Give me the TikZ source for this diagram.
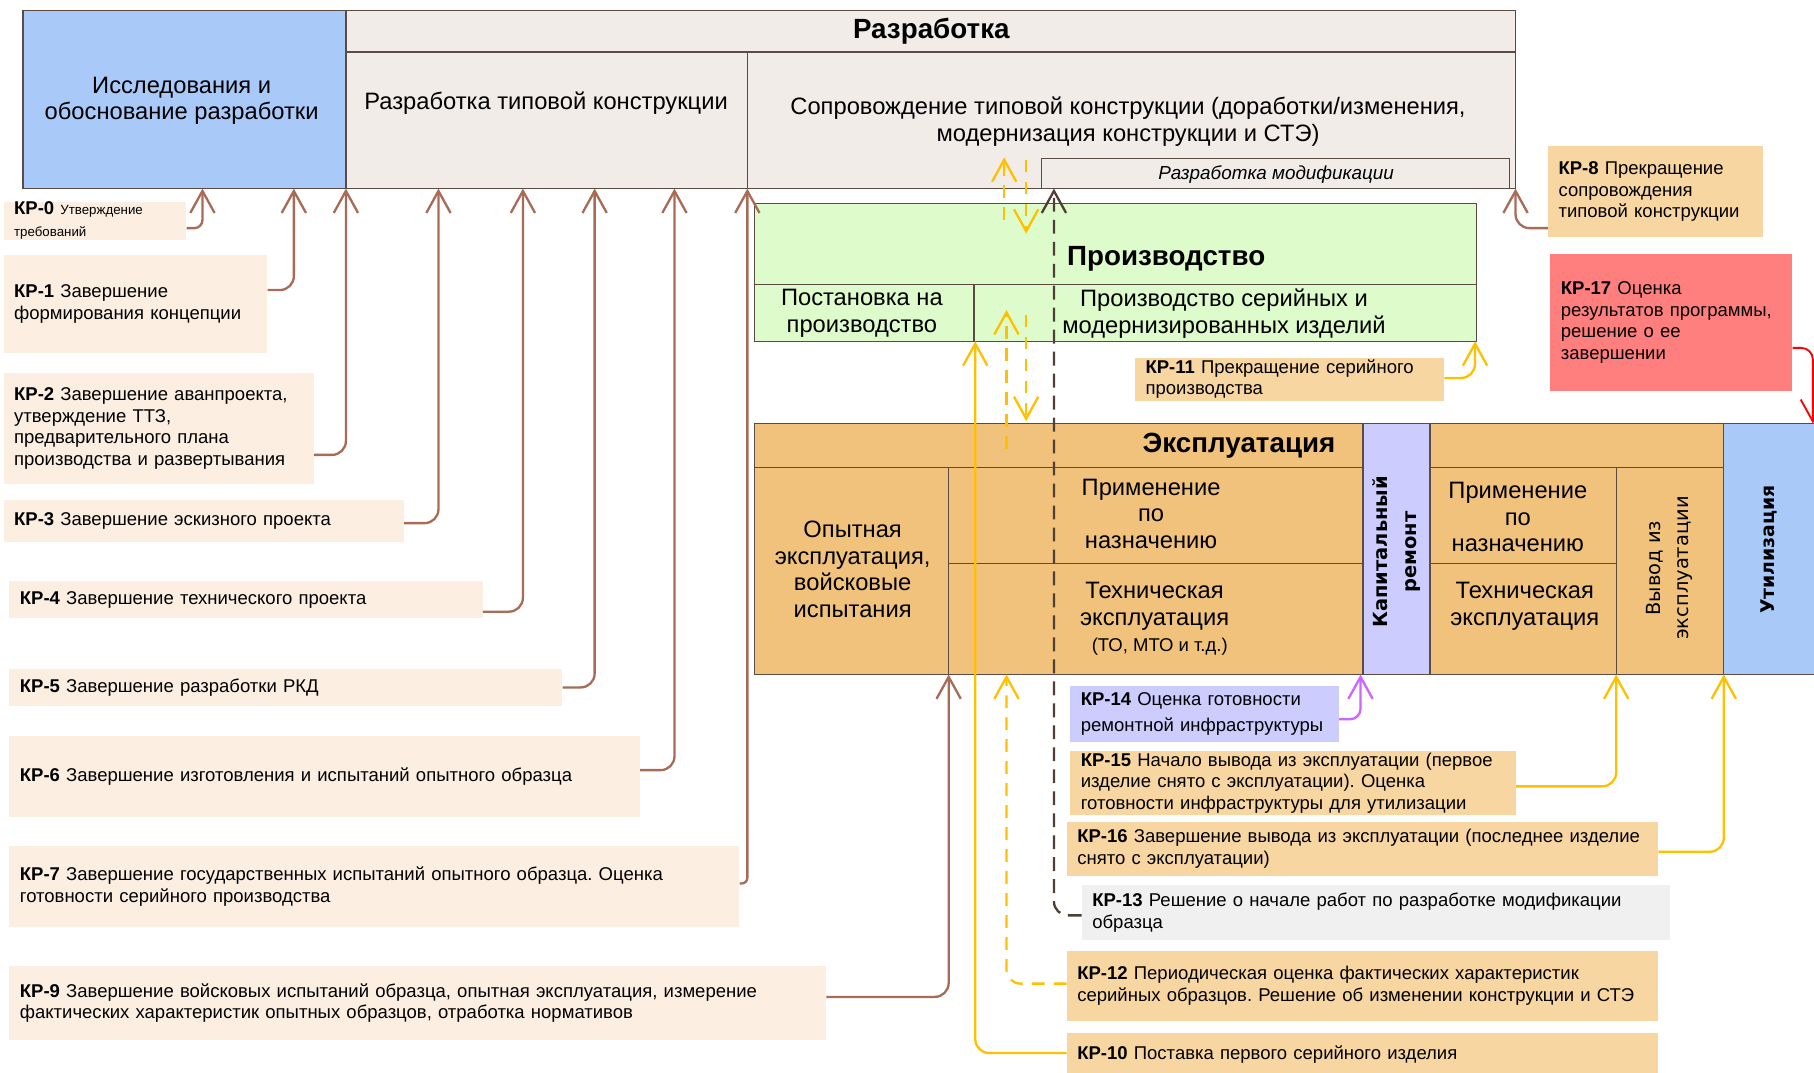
\documentclass[tikz,border=0pt]{standalone}
\usepackage{fontspec}
\setmainfont{Liberation Sans}
\newfontfamily\vertfont{DejaVu Sans}
\usetikzlibrary{arrows.meta}

\definecolor{resblue}{HTML}{A9C9F9}
\definecolor{devgray}{HTML}{F2ECE9}
\definecolor{prodgreen}{HTML}{DDFBCB}
\definecolor{explor}{HTML}{F0C27C}
\definecolor{lav}{HTML}{CCCCFF}
\definecolor{kplight}{HTML}{FCEFE2}
\definecolor{kpdark}{HTML}{F8D6A1}
\definecolor{kpred}{HTML}{FF7F7F}
\definecolor{kpgray}{HTML}{F0F0F0}
\definecolor{brn}{HTML}{A86B57}
\definecolor{ylw}{HTML}{FFC000}
\definecolor{purp}{HTML}{CC66FF}
\definecolor{darkln}{HTML}{4F3F38}
\definecolor{edgeln}{HTML}{5B4B43}

\newcommand{\kpfont}{\fontsize{16}{18.6}\selectfont}
\newcommand{\kpsmall}{\fontsize{11.5}{18.6}\selectfont}
\newcommand{\cellfont}{\fontsize{20.5}{23}\selectfont}
\newcommand{\headfont}{\fontsize{24}{28}\selectfont\bfseries}
\frenchspacing

\begin{document}
\begin{tikzpicture}[x=1pt,y=-1pt,
  cell/.style={draw=edgeln, line width=1.2pt},
  txt/.style={align=center, font=\cellfont, inner sep=0pt},
  head/.style={font=\headfont, inner sep=0pt},
  kp/.style={anchor=north west, inner xsep=9pt, inner ysep=0pt, align=left, font=\kpfont},
  link/.style={line width=2pt, rounded corners=12pt, -{Straight Barb[length=19pt,width=21pt]}},
  devlink/.style={link, draw=brn},
  serlink/.style={link, draw=ylw},
  yelldash/.style={serlink, dash pattern=on 11pt off 8pt},
  moddash/.style={link, draw=darkln, dash pattern=on 12pt off 7pt}]
\useasboundingbox (0,0) rectangle (1568,927);

% Разработка
\draw[cell, fill=devgray] (299,9) rectangle (1310,163);
\draw[cell, fill=resblue] (20,9) rectangle (299,163);
\draw[cell] (299,45) -- (1310,45);
\draw[cell] (646,45) -- (646,163);
\draw[cell, fill=devgray] (900,137) rectangle (1305,163);
\node[txt] (resT) at (157,87) {Исследования и\\обоснование разработки};
\node[head] (devT) at (805,27) {Разработка};
\node[txt] (typT) at (472,89) {Разработка типовой конструкции};
\node[txt] (supT) at (975,105) {Сопровождение типовой конструкции (доработки/изменения,\\модернизация конструкции и СТЭ)};
\node[font=\fontsize{16.3}{18}\selectfont\itshape, inner sep=0pt] (modT) at (1103,151) {Разработка модификации};

% Производство
\draw[cell, fill=prodgreen] (652,176) rectangle (1276,295);
\draw[cell] (652,246) -- (1276,246);
\draw[cell] (842,246) -- (842,295);
\node[head] (prodT) at (1008,224) {Производство};
\node[txt] (setT) at (745,271) {Постановка на\\производство};
\node[txt] (serT) at (1058,271) {Производство серийных и\\модернизированных изделий};

% Эксплуатация
\draw[cell, fill=explor] (652,366) rectangle (1490,583);
\draw[cell] (652,404) -- (1178,404);
\draw[cell] (820,404) -- (820,583);
\draw[cell] (820,487) -- (1178,487);
\draw[cell, fill=lav] (1178,366) rectangle (1236,583);
\draw[cell] (1236,404) -- (1490,404);
\draw[cell] (1236,487) -- (1397,487);
\draw[cell] (1397,404) -- (1397,583);
\draw[cell, fill=resblue] (1490,366) rectangle (1575,583);
\node[head] (explT) at (1071,385) {Эксплуатация};
\node[txt] (trialT) at (737,492) {Опытная\\эксплуатация,\\войсковые\\испытания};
\node[txt] (use1T) at (995,444) {Применение\\по\\назначению};
\node[txt] (tech1T) at (998,535) {Техническая\\эксплуатация\\{\kpfont\ \ (ТО, МТО и т.д.)}};
\node[txt] (use2T) at (1312,447) {Применение\\по\\назначению};
\node[txt] (tech2T) at (1318,524) {Техническая\\эксплуатация};
\node[rotate=90, align=center, inner sep=0pt, font={\fontsize{16.8}{25}\selectfont\vertfont\bfseries}] (repT) at (1207,477) {Капитальный\\ремонт};
\node[rotate=90, align=center, inner sep=0pt, font={\fontsize{16.8}{25}\selectfont\vertfont}] (outT) at (1443,491) {Вывод из\\эксплуатации};
\node[rotate=90, inner sep=0pt, font={\fontsize{16.3}{25}\selectfont\vertfont\bfseries}] (utlT) at (1529,475) {Утилизация};

% контрольные рубежи
\node[kp, fill=kplight, text width=140pt, minimum height=33pt] (kp0) at (3,174) {\textbf{КР-0} {\kpsmall Утверждение}\\{\kpsmall требований}};
\node[kp, fill=kplight, text width=210pt, minimum height=85pt] (kp1) at (3,220) {\textbf{КР-1} Завершение\\формирования концепции\\[14pt]};
\node[kp, fill=kplight, text width=250pt, minimum height=96pt] (kp2) at (3,322) {\textbf{КР-2} Завершение аванпроекта,\\утверждение ТТЗ,\\предварительного плана\\производства и развертывания};
\node[kp, fill=kplight, text width=328pt, minimum height=36pt] (kp3) at (3,432) {\textbf{КР-3} Завершение эскизного проекта};
\node[kp, fill=kplight, text width=391pt, minimum height=32pt] (kp4) at (8,502) {\textbf{КР-4} Завершение технического проекта};
\node[kp, fill=kplight, text width=460pt, minimum height=32pt] (kp5) at (8,578) {\textbf{КР-5} Завершение разработки РКД};
\node[kp, fill=kplight, text width=527pt, minimum height=70pt] (kp6) at (8,636) {\textbf{КР-6} Завершение изготовления и испытаний опытного образца};
\node[kp, fill=kplight, text width=613pt, minimum height=70pt] (kp7) at (8,731) {\textbf{КР-7} Завершение государственных испытаний опытного образца. Оценка\\готовности серийного производства};
\node[kp, fill=kplight, text width=688pt, minimum height=64pt] (kp9) at (8,835) {\textbf{КР-9} Завершение войсковых испытаний образца, опытная эксплуатация, измерение\\фактических характеристик опытных образцов, отработка нормативов};
\node[kp, fill=kpdark, text width=168pt, minimum height=79pt] (kp8) at (1338,126) {\textbf{КР-8} Прекращение\\сопровождения\\типовой конструкции};
\node[kp, fill=kpred, text width=191pt, minimum height=119pt] (kp17) at (1340,219) {\textbf{КР-17} Оценка\\результатов программы,\\решение о ее\\завершении};
\node[kp, fill=kpdark, text width=249pt, minimum height=37pt] (kp11) at (981,309) {\textbf{КР-11} Прекращение серийного\\производства};
\node[kp, fill=lav, text width=214pt, minimum height=48pt] (kp14) at (925,593) {\textbf{КР-14} Оценка готовности\\[4pt]ремонтной инфраструктуры};
\node[kp, fill=kpdark, text width=367pt, minimum height=55pt] (kp15) at (925,649) {\textbf{КР-15} Начало вывода из эксплуатации (первое\\изделие снято с эксплуатации). Оценка\\готовности инфраструктуры для утилизации};
\node[kp, fill=kpdark, text width=493pt, minimum height=47pt] (kp16) at (922,710) {\textbf{КР-16} Завершение вывода из эксплуатации (последнее изделие\\снято с эксплуатации)};
\node[kp, fill=kpgray, text width=490pt, minimum height=47pt] (kp13) at (935,765) {\textbf{КР-13} Решение о начале работ по разработке модификации\\образца};
\node[kp, fill=kpdark, text width=493pt, minimum height=60pt] (kp12) at (922,822) {\textbf{КР-12} Периодическая оценка фактических характеристик\\серийных образцов. Решение об изменении конструкции и СТЭ};
\node[kp, fill=kpdark, text width=493pt, minimum height=37pt] (kp10) at (922,893) {\textbf{КР-10} Поставка первого серийного изделия};

% точки входа стрелок
\coordinate (in0) at (175,163);
\coordinate (in1) at (254,163);
\coordinate (in2) at (299,163);
\coordinate (in3) at (379,163);
\coordinate (in4) at (452,163);
\coordinate (in5) at (514,163);
\coordinate (in6) at (583,163);
\coordinate (in7) at (646,163);
\coordinate (in8) at (1310,163);
\coordinate (in9) at (820,583);
\coordinate (in10) at (843,295);
\coordinate (in11) at (1275,295);
\coordinate (in12) at (870,583);
\coordinate (in13) at (911,163);
\coordinate (in14) at (1176,583);
\coordinate (in15) at (1397,583);
\coordinate (in16) at (1490,583);
\coordinate (in17) at (1567,366);

\draw[devlink, rounded corners=7pt] ([yshift=-6.5pt]kp0.east) -| (in0);
\draw[devlink] ([yshift=12pt]kp1.east) -| (in1);
\draw[devlink] ([yshift=-23pt]kp2.east) -| (in2);
\draw[devlink] ([yshift=-2pt]kp3.east) -| (in3);
\draw[devlink] ([yshift=-10.5pt]kp4.east) -| (in4);
\draw[devlink] (kp5.east) -| (in5);
\draw[devlink] ([yshift=5.5pt]kp6.east) -| (in6);
\draw[devlink, rounded corners=5pt] ([yshift=2.5pt]kp7.east) -| (in7);
\draw[devlink] ([yshift=-31.5pt]kp8.west) -| (in8);
\draw[devlink] ([yshift=5.5pt]kp9.east) -| (in9);
\draw[serlink] ([yshift=1.5pt]kp10.west) -| (in10);
\draw[serlink] ([yshift=1pt]kp11.east) -| (in11);
\draw[yelldash] ([yshift=2pt]kp12.west) -| (in12);
\draw[moddash] ([yshift=-2.5pt]kp13.west) -| (in13);
\draw[link, draw=purp, rounded corners=9pt] ([yshift=-4.5pt]kp14.east) -| (in14);
\draw[serlink] ([yshift=-3pt]kp15.east) -| (in15);
\draw[serlink] ([yshift=-2.5pt]kp16.east) -| (in16);
\draw[link, draw=red, line width=1.6pt, rounded corners=10pt] ([yshift=-22pt]kp17.east) -| (in17);

% обратная связь
\coordinate (fb1a) at (868,190);
\coordinate (fb1b) at (868,136);
\coordinate (fb2a) at (887,138);
\coordinate (fb2b) at (887,202);
\coordinate (fb3a) at (870,388);
\coordinate (fb3b) at (870,268);
\coordinate (fb4a) at (887,272);
\coordinate (fb4b) at (887,364);
\draw[yelldash] (fb1a) -- (fb1b);
\draw[yelldash] (fb2a) -- (fb2b);
\draw[yelldash] (fb3a) -- (fb3b);
\draw[yelldash] (fb4a) -- (fb4b);
\end{tikzpicture}
\end{document}
